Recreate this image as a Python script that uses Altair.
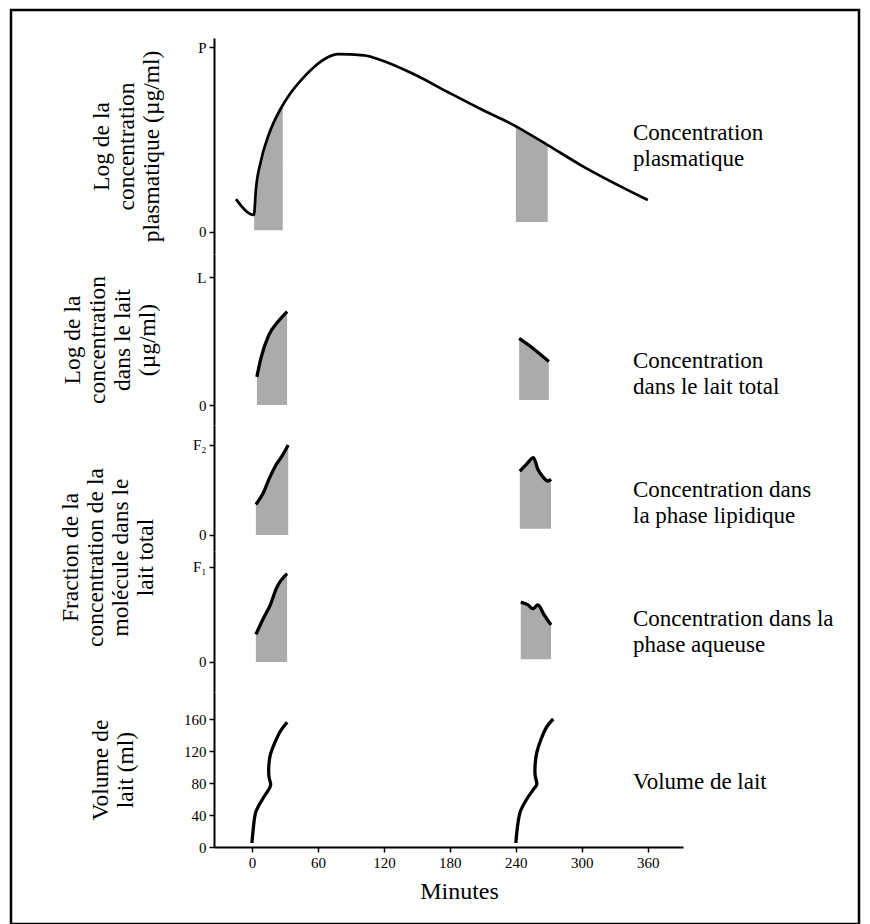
import altair as alt
import pandas as pd

FONT = "Liberation Serif"

# ---------------- data ----------------
x_ticks = [0, 60, 120, 180, 240, 300, 360]

# Panel 1: log plasma concentration (0 .. P)
plasma_min = [-14.5, 1.8, 3.6, 8, 15.5, 26, 35, 44.5, 56, 69, 78, 102, 117, 147, 178, 208, 238, 269, 299, 360]
plasma_val = [0.178, 0.092, 0.23, 0.38, 0.53, 0.665, 0.75, 0.82, 0.89, 0.945, 0.962, 0.955, 0.93, 0.854, 0.757, 0.665, 0.578, 0.47, 0.362, 0.173]
plasma_sh1_min = [2, 3.6, 8, 15.5, 22, 28]
plasma_sh1_top = [0.10, 0.23, 0.38, 0.53, 0.61, 0.68]
plasma_sh1_bot = [0.01, 0.01, 0.01, 0.01, 0.01, 0.01]
plasma_sh2_min = [240, 255, 269]
plasma_sh2_top = [0.57, 0.52, 0.47]
plasma_sh2_bot = [0.054, 0.054, 0.054]

# Panel 2: log concentration in whole milk (0 .. L)
milk1_min = [4.5, 8, 15.5, 23.6, 32]
milk1_val = [0.22, 0.36, 0.55, 0.65, 0.73]
milk2_min = [243, 256, 270]
milk2_val = [0.52, 0.44, 0.34]
milk1_bot = [0, 0, 0, 0, 0]
milk2_bot = [0.04, 0.04, 0.04]

# Panel 3: fraction in lipid phase (0 .. F2)
f2a_min = [3.6, 10, 15.5, 22, 28, 33]
f2a_val = [0.34, 0.46, 0.62, 0.78, 0.89, 1.0]
f2a_bot = [0, 0, 0, 0, 0, 0]
f2b_min = [243.6, 250, 256, 260, 265, 269, 272]
f2b_val = [0.71, 0.79, 0.86, 0.73, 0.64, 0.60, 0.62]
f2b_bot = [0.07, 0.07, 0.07, 0.07, 0.07, 0.07, 0.07]

# Panel 4: fraction in aqueous phase (0 .. F1)
f1a_min = [3.6, 10, 17, 22, 32]
f1a_val = [0.29, 0.45, 0.61, 0.77, 0.93]
f1a_bot = [0, 0, 0, 0, 0]
f1b_min = [244.5, 251, 255.5, 260, 265.5, 272]
f1b_val = [0.63, 0.60, 0.56, 0.60, 0.50, 0.39]
f1b_bot = [0.03, 0.03, 0.03, 0.03, 0.03, 0.03]

# Panel 5: milk volume (ml)
vol_ticks = [0, 40, 80, 120, 160]
vol1_min = [0, 1, 3.6, 9.7, 15.7, 17, 15.5, 15.3, 16.5, 21, 26, 32]
vol1_ml = [5, 20, 44, 60, 73, 78, 88, 100, 114, 131, 145, 156]
vol2_min = [240, 241, 244, 250, 256.5, 259, 257.5, 257.5, 259, 263, 268, 274]
vol2_ml = [5, 20, 44, 60, 73, 78, 90, 102, 118, 135, 150, 160]

# ---------------- helpers ----------------
XDOM = [-34.5, 392]
W = 469
SHADE = "#ababab"
LABEL_SIZE = 23


def xenc(axis=None):
    return alt.X("m:Q", scale=alt.Scale(domain=XDOM, nice=False, zero=False), axis=axis)


def line_df(mins, vals):
    return pd.DataFrame({"m": mins, "v": vals, "i": list(range(len(mins)))})


def shade_df(mins, tops, bots):
    return pd.DataFrame({"m": mins, "v": tops, "b": bots})


def label_layer(text, y):
    return alt.Chart(pd.DataFrame({"k": [0]})).mark_text(
        text=text, align="left", baseline="middle", font=FONT, fontSize=LABEL_SIZE,
        lineHeight=26, color="black"
    ).encode(x=alt.value(419), y=alt.value(y))


def panel(lines, shades, ydom, yaxis, height, label, label_y, stroke=3.3):
    yscale = alt.Scale(domain=ydom, nice=False, zero=False)
    layers = []
    for s in shades:
        layers.append(
            alt.Chart(s).mark_area(color=SHADE, interpolate="monotone").encode(
                x=xenc(None), y=alt.Y("v:Q", scale=yscale, axis=yaxis), y2="b:Q"
            )
        )
    for l in lines:
        layers.append(
            alt.Chart(l).mark_line(color="black", strokeWidth=stroke, interpolate="monotone").encode(
                x=xenc(None), y=alt.Y("v:Q", scale=yscale, axis=yaxis), order="i:Q"
            )
        )
    layers.append(label_layer(label, label_y))
    return alt.layer(*layers).properties(width=W, height=height)


def yaxis(top_label, title, title_pad=10, title_y=None):
    kw = dict(
        values=[0, 1],
        labelExpr=f"datum.value == 1 ? '{top_label}' : '0'",
        title=title,
        titlePadding=title_pad,
    )
    if title_y is not None:
        kw["titleY"] = title_y
    return alt.Axis(**kw)


p1 = panel(
    [line_df(plasma_min, plasma_val)],
    [shade_df(plasma_sh1_min, plasma_sh1_top, plasma_sh1_bot),
     shade_df(plasma_sh2_min, plasma_sh2_top, plasma_sh2_bot)],
    [-0.119, 1.049],
    yaxis("P", ["Log de la", "concentration", "plasmatique (µg/ml)"], 34),
    216, ["Concentration", "plasmatique"], 95, stroke=2.7,
)

p2 = panel(
    [line_df(milk1_min, milk1_val), line_df(milk2_min, milk2_val)],
    [shade_df(milk1_min, milk1_val, milk1_bot), shade_df(milk2_min, milk2_val, milk2_bot)],
    [-0.156, 1.18],
    yaxis("L", ["Log de la", "concentration", "dans le lait", "(µg/ml)"], 37),
    171, ["Concentration", "dans le lait total"], 107,
)

p3 = panel(
    [line_df(f2a_min, f2a_val), line_df(f2b_min, f2b_val)],
    [shade_df(f2a_min, f2a_val, f2a_bot), shade_df(f2b_min, f2b_val, f2b_bot)],
    [-0.178, 1.222],
    yaxis("F₂", None),
    126, ["Concentration dans", "la phase lipidique"], 65,
)

p4 = panel(
    [line_df(f1a_min, f1a_val), line_df(f1b_min, f1b_val)],
    [shade_df(f1a_min, f1a_val, f1a_bot), shade_df(f1b_min, f1b_val, f1b_bot)],
    [-0.316, 1.168],
    yaxis("F₁", ["Fraction de la", "concentration de la", "molécule dans le", "lait total"], 35, title_y=6),
    141, ["Concentration dans la", "phase aqueuse"], 68,
)

vol_axis_y = alt.Axis(values=vol_ticks, title=["Volume de", "lait (ml)"], titlePadding=46)
vol_axis_x = alt.Axis(values=x_ticks, title="Minutes", titleFontSize=24, titlePadding=9, titleX=245)
vscale = alt.Scale(domain=[0, 193.75], nice=False, zero=False)

vol_layers = []
for mins, ml in [(vol1_min, vol1_ml), (vol2_min, vol2_ml)]:
    vol_layers.append(
        alt.Chart(pd.DataFrame({"m": mins, "v": ml, "i": list(range(len(mins)))}))
        .mark_line(color="black", strokeWidth=3.3, interpolate="catmull-rom")
        .encode(x=xenc(vol_axis_x), y=alt.Y("v:Q", scale=vscale, axis=vol_axis_y), order="i:Q")
    )
vol_layers.append(label_layer("Volume de lait", 90))
# page border frame
vol_layers.append(
    alt.Chart(pd.DataFrame({"k": [0]})).mark_rect(
        fillOpacity=0, stroke="black", strokeWidth=2.5
    ).encode(x=alt.value(-203), x2=alt.value(645), y=alt.value(-682), y2=alt.value(232))
)
p5 = alt.layer(*vol_layers).properties(width=W, height=155)

chart = (
    alt.vconcat(p1, p2, p3, p4, p5, spacing=0, bounds="flush")
    .properties(padding={"left": 1, "top": 0, "right": 0, "bottom": 0})
    .configure_view(stroke=None)
    .configure_axis(
        domainColor="black", domainWidth=2, tickColor="black", tickWidth=1.5, tickSize=5,
        labelFont=FONT, labelFontSize=15, labelColor="black", labelPadding=3,
        titleFont=FONT, titleFontSize=23.5, titleFontWeight="normal", titleColor="black",
        titleLineHeight=25, grid=False,
    )
)

chart.save("out.html", embed_options={"renderer": "svg", "actions": False})
